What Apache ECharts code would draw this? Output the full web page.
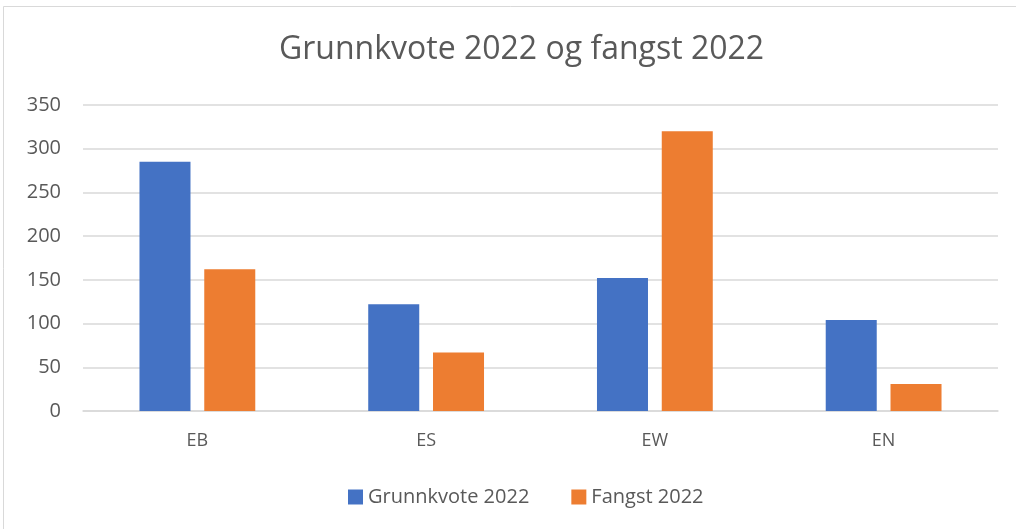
<!DOCTYPE html>
<html>
<head>
<meta charset="utf-8">
<script src="https://cdn.jsdelivr.net/npm/echarts@6/dist/echarts.min.js"></script>
<style>
  html, body { margin: 0; padding: 0; background: #fff; }
  #chart { width: 1016px; height: 529px; }
</style>
</head>
<body>
<div id="chart"></div>
<script>
// data
const categories = ['EB', 'ES', 'EW', 'EN'];
const grunnkvote = [285, 122, 152, 104];
const fangst = [162, 67, 320, 31];
const yTicks = { min: 0, max: 350, interval: 50 };

const textColor = '#595959';
const font = 'Open Sans';

const myChart = echarts.init(document.getElementById('chart'));
const option = {
  backgroundColor: '#fff',
  animation: false,
  graphic: [{
    type: 'rect',
    shape: { x: 3.5, y: 6.5, width: 1020, height: 540 },
    style: { fill: 'none', stroke: '#d9d9d9', lineWidth: 1 },
  }],
  title: {
    text: 'Grunnkvote 2022 og fangst 2022',
    left: 274,
    top: 29,
    textStyle: { fontFamily: font, fontSize: 32, fontWeight: 'normal', color: textColor },
  },
  legend: {
    bottom: 17,
    left: 343,
    itemWidth: 15,
    itemHeight: 15,
    itemGap: 42,
    icon: 'rect',
    textStyle: { fontFamily: font, fontSize: 20, color: textColor },
  },
  grid: { left: 83, right: 18, top: 105, bottom: 118 },
  xAxis: {
    type: 'category',
    data: categories,
    axisLine: { lineStyle: { color: '#d9d9d9', width: 1.5 } },
    axisTick: { show: false },
    axisLabel: { fontFamily: font, fontSize: 18, color: textColor, margin: 21 },
  },
  yAxis: {
    type: 'value',
    min: yTicks.min,
    max: yTicks.max,
    interval: yTicks.interval,
    axisLine: { show: false },
    axisTick: { show: false },
    axisLabel: { fontFamily: font, fontSize: 20, color: textColor, margin: 22 },
    splitLine: { lineStyle: { color: '#d9d9d9', width: 1.5 } },
  },
  series: [
    {
      name: 'Grunnkvote 2022',
      type: 'bar',
      data: grunnkvote,
      barWidth: '22.3%',
      barGap: '27%',
      itemStyle: { color: '#4472c4' },
    },
    {
      name: 'Fangst 2022',
      type: 'bar',
      data: fangst,
      barWidth: '22.3%',
      itemStyle: { color: '#ed7d31' },
    },
  ],
};

if (option && typeof option === 'object') {
  myChart.setOption(option, true);
}
</script>
</body>
</html>
